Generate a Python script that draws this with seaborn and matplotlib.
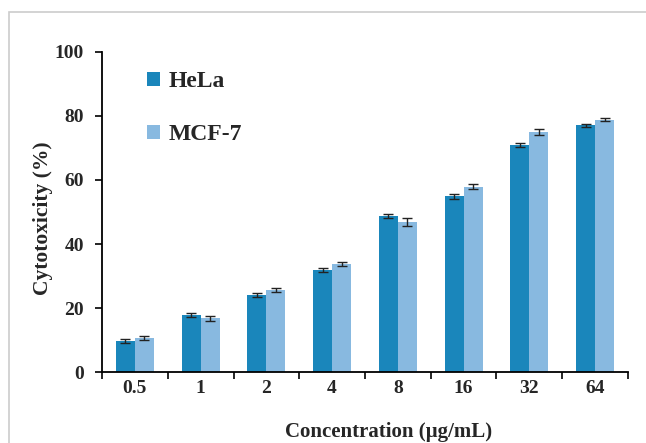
import matplotlib
matplotlib.use("Agg")
import matplotlib.pyplot as plt
import seaborn as sns
import pandas as pd
from matplotlib.patches import Rectangle

concentrations = ["0.5", "1", "2", "4", "8", "16", "32", "64"]
hela = [9.8, 17.8, 24.0, 31.9, 48.7, 54.9, 70.9, 77.0]
hela_err = [0.6, 0.7, 0.7, 0.6, 0.6, 0.7, 0.7, 0.4]
mcf7 = [10.6, 16.8, 25.7, 33.8, 46.9, 57.9, 74.9, 78.8]
mcf7_err = [0.7, 0.7, 0.6, 0.6, 1.2, 0.8, 0.9, 0.4]
series = ["HeLa", "MCF-7"]
colors = ["#1a86bb", "#88b9e0"]
yticks = [0, 20, 40, 60, 80, 100]

df = pd.DataFrame({
    "Concentration": concentrations * 2,
    "Cytotoxicity": hela + mcf7,
    "Err": hela_err + mcf7_err,
    "Cell": [series[0]] * len(concentrations) + [series[1]] * len(concentrations),
})

sns.set_style("white")
plt.rcParams["font.family"] = ["Liberation Serif", "DejaVu Serif"]

fig = plt.figure(figsize=(6.46, 4.43), dpi=100)
ax = fig.add_axes([0.158, 0.160, 0.814, 0.723])

sns.barplot(data=df, x="Concentration", y="Cytotoxicity", hue="Cell",
            order=concentrations, hue_order=series, palette=colors,
            width=0.58, errorbar=None, ax=ax, saturation=1, edgecolor="none")

# error bars placed at bar centers
for cont, errs, vals in zip(ax.containers, [hela_err, mcf7_err], [hela, mcf7]):
    xs = [p.get_x() + p.get_width() / 2 for p in cont.patches]
    ax.errorbar(xs, vals, yerr=errs, fmt="none", ecolor="#222222",
                elinewidth=1.0, capsize=3.5, capthick=1.0, zorder=5)

ax.set_ylim(0, 100)
ax.set_xlim(-0.5, len(concentrations) - 0.5)
ax.set_yticks(yticks)
ax.set_yticklabels([str(t) for t in yticks], fontsize=14, fontweight="bold")
ax.set_xticklabels(concentrations, fontsize=14, fontweight="bold")

# category boundary ticks on x-axis
ax.set_xticks([i - 0.5 for i in range(len(concentrations) + 1)], minor=True)
ax.tick_params(axis="x", which="major", length=0, pad=6)
ax.tick_params(axis="x", which="minor", length=5, width=1.2, direction="out",
               bottom=True, color="black")
ax.tick_params(axis="y", which="major", length=5, width=1.2, direction="out",
               left=True, color="black", pad=8)

for s in ["top", "right"]:
    ax.spines[s].set_visible(False)
for s in ["left", "bottom"]:
    ax.spines[s].set_color("black")
    ax.spines[s].set_linewidth(1.3)

ax.set_xlabel("Concentration (µg/mL)", fontsize=15, fontweight="bold",
              labelpad=18, x=0.544)
ax.set_ylabel("Cytotoxicity (%)", fontsize=15.5, fontweight="bold",
              labelpad=1.5, y=0.48)

leg = ax.legend(loc="upper left", bbox_to_anchor=(0.045, 1.005), frameon=False,
                prop={"size": 17, "weight": "bold"}, handlelength=0.55,
                handleheight=0.55, handletextpad=0.35, labelspacing=1.35)

# light grey frame around the figure (partially cropped)
fig.patches.append(Rectangle((9 / 646, -0.05), 1.2, 1 - 12 / 443 + 0.05,
                             transform=fig.transFigure, fill=False,
                             edgecolor="#cccccc", linewidth=1.2))

fig.savefig("out.png", dpi=100)
